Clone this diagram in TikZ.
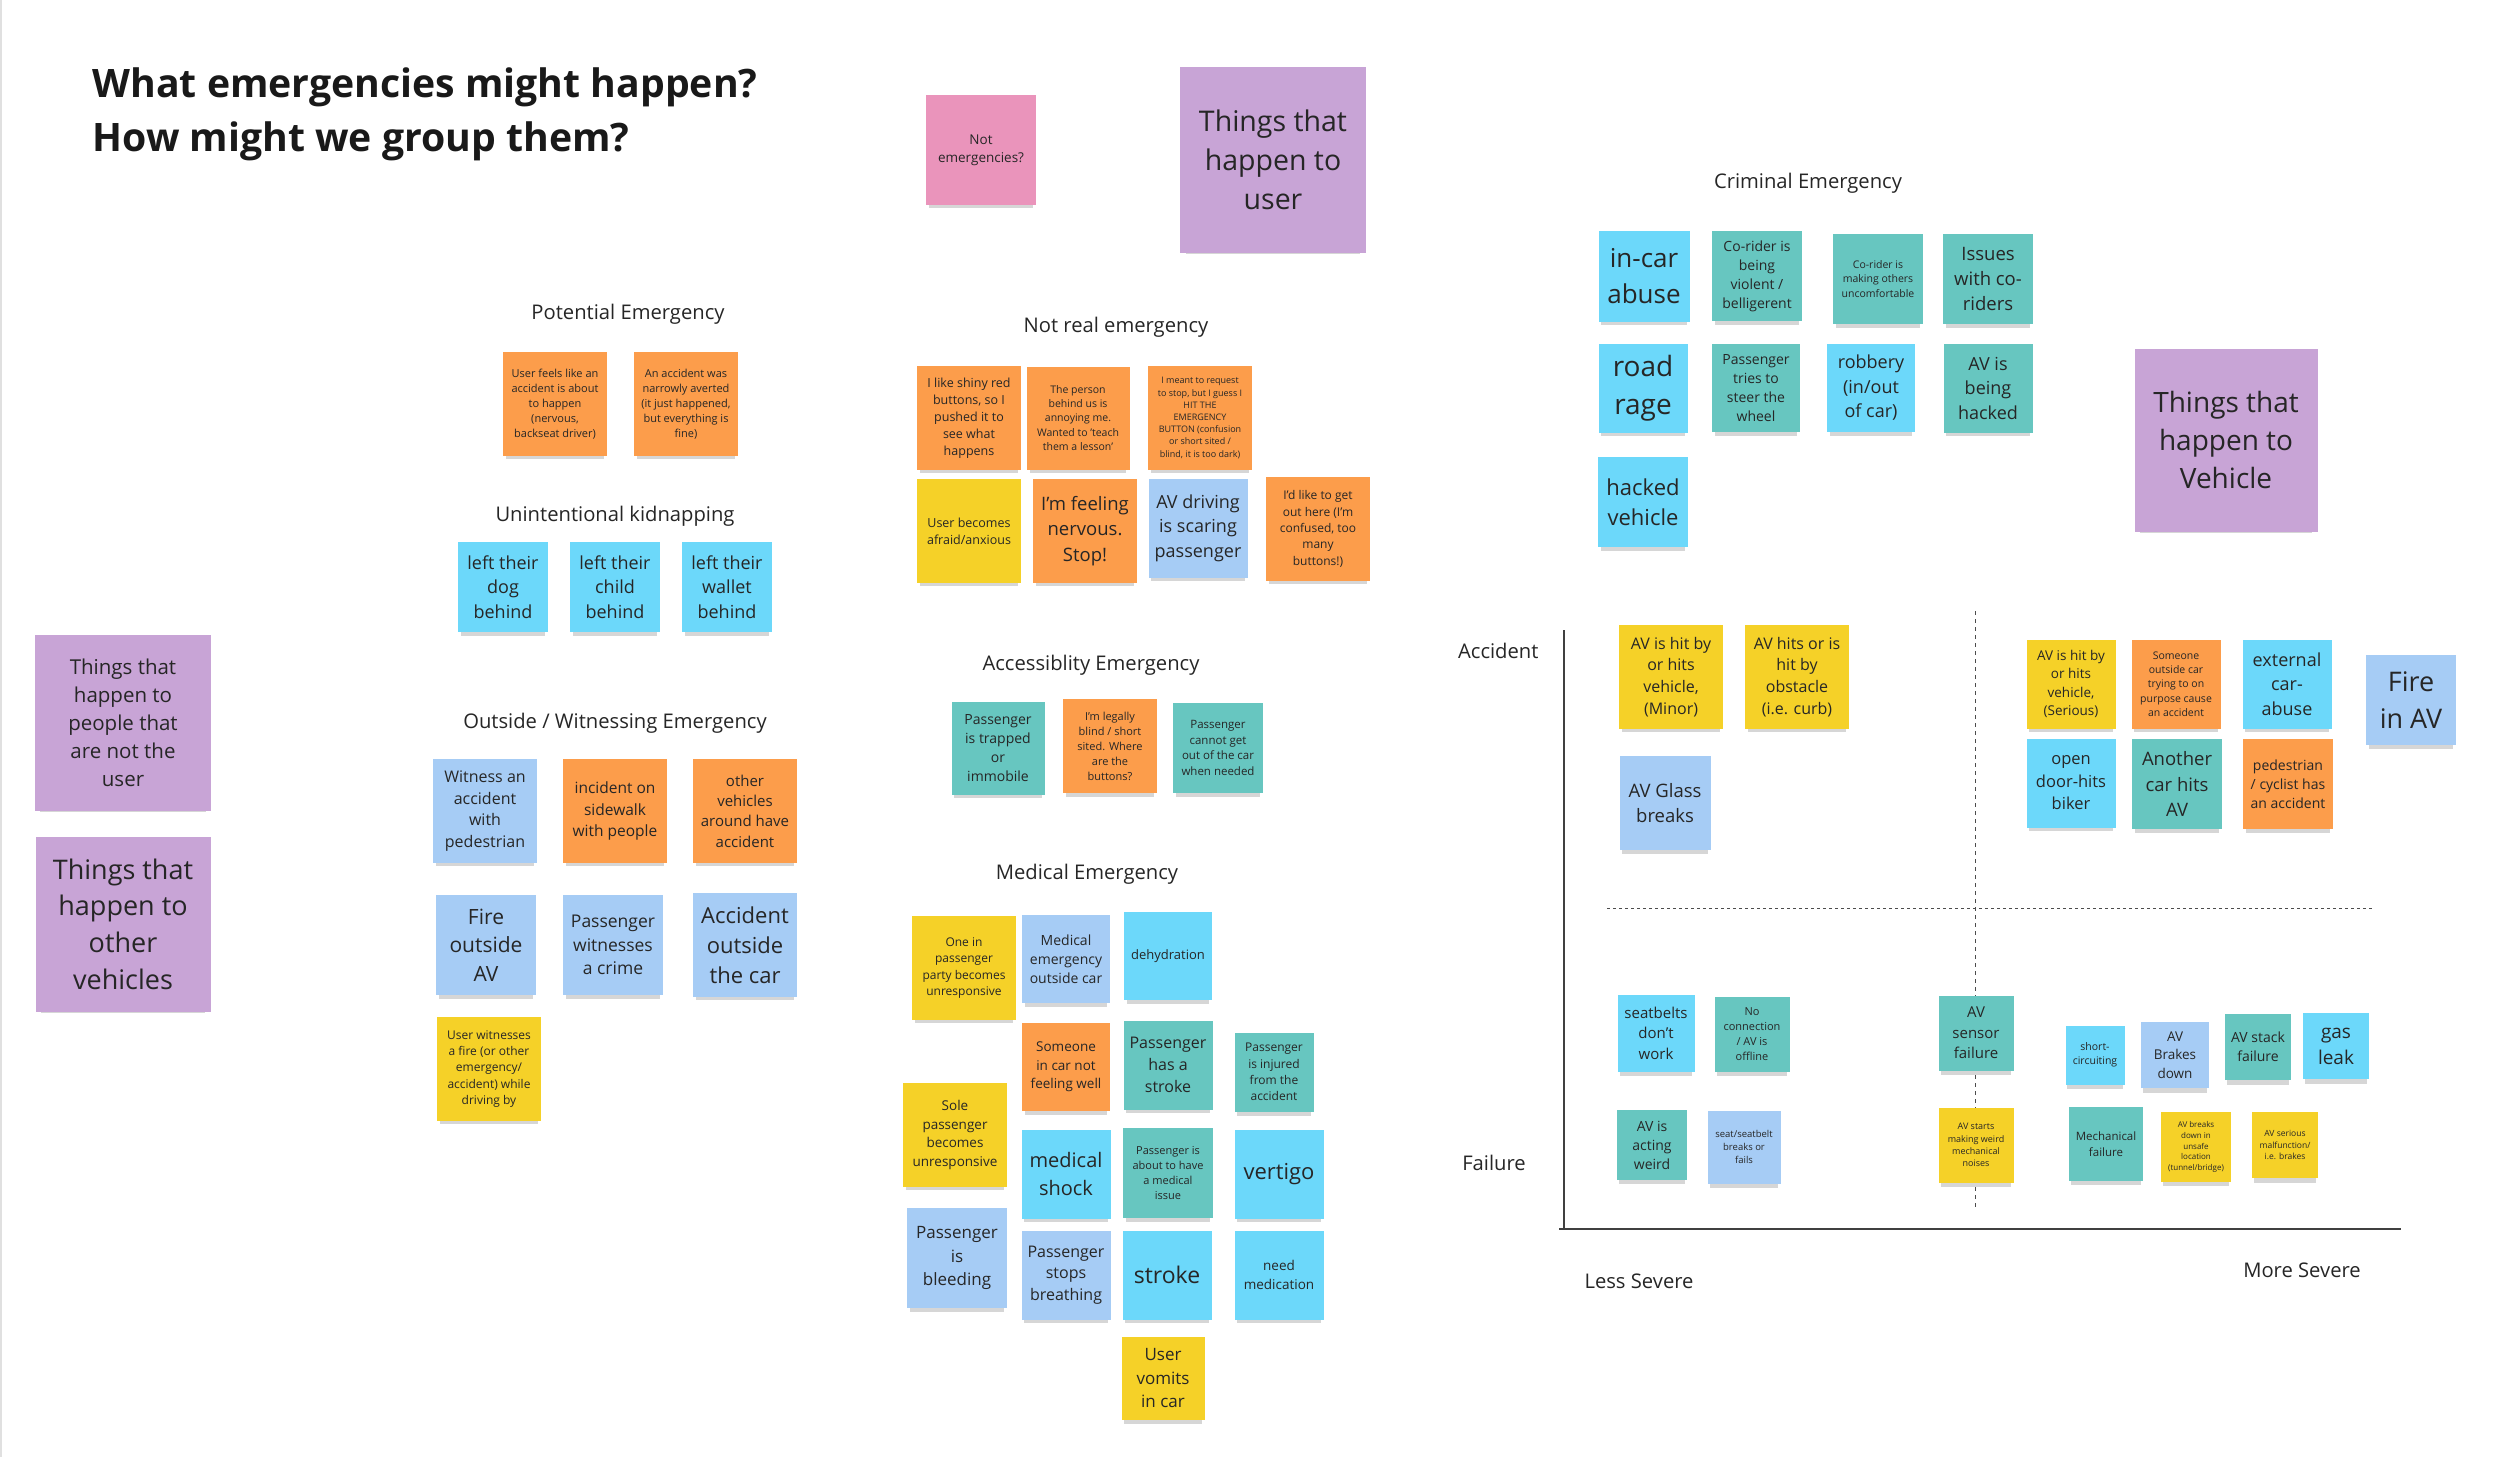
\documentclass[tikz,border=0pt]{standalone}
\usepackage{fontspec}
\setmainfont{Open Sans}
\usetikzlibrary{shadows}
\definecolor{stOrange}{HTML}{FC9D4B}
\definecolor{stYellow}{HTML}{F5D128}
\definecolor{stLblue}{HTML}{A6CCF5}
\definecolor{stCyan}{HTML}{6CD8FA}
\definecolor{stTeal}{HTML}{67C6C0}
\definecolor{stPurple}{HTML}{C8A4D6}
\definecolor{stPink}{HTML}{EA94BB}
\newcommand\fsz[1]{\fontsize{#1}{1.36\dimexpr#1pt\relax}\selectfont}

\begin{document}
\begin{tikzpicture}[
    x=1pt, y=-1pt,
    note/.style={align=center, inner sep=1pt, text=black!85,
      general shadow={fill=black, opacity=0.16, shadow yshift=-7pt, shadow scale=0.94}},
    sq/.style={minimum width=#1, minimum height=#1},
    orng/.style={note, fill=stOrange},
    yel/.style={note, fill=stYellow},
    lblue/.style={note, fill=stLblue},
    cyan/.style={note, fill=stCyan},
    teal/.style={note, fill=stTeal},
    purp/.style={note, fill=stPurple},
    pink/.style={note, fill=stPink},
    hdr/.style={font=\fsz{20.2}, text=black!85},
    axis/.style={draw=black!75, line width=1.8pt},
    guide/.style={draw=black!70, line width=1pt}
  ]
  \useasboundingbox[fill=white] (0,0) rectangle (2500,1457);
  \draw[black!12, line width=1.5pt] (1,0) -- (1,1457);

  % title
  \node[anchor=west, align=left, font=\bfseries\fontsize{39.2}{54}\selectfont, text=black!90]
    (title) at (89,114) {What emergencies might happen?\\How might we group them?};

  % purple / pink headers
  \node[pink, sq=110pt, font=\fsz{13.5}] (notemg) at (981,150) {Not\\emergencies?};
  \node[purp, sq=186pt, font=\fsz{28.5}] (pu1) at (1273,160) {Things that\\happen to\\user};
  \node[purp, sq=183pt, font=\fsz{28}] (pu2) at (2226,440) {Things that\\happen to\\Vehicle};
  \node[purp, sq=176pt, font=\fsz{20.5}] (pu3) at (123,723) {Things that\\happen to\\people that\\are not the\\user};
  \node[purp, sq=175pt, font=\fsz{27}] (pu4) at (123,924) {Things that\\happen to\\other\\vehicles};

  % potential emergency
  \node[hdr] (hpot) at (628,314) {Potential Emergency};
  \node[orng, sq=104pt, font=\fsz{11}] (pot1) at (555,404) {User feels like an\\accident is about\\to happen\\(nervous,\\backseat driver)};
  \node[orng, sq=104pt, font=\fsz{11}] (pot2) at (686,404) {An accident was\\narrowly averted\\(it just happened,\\but everything is\\fine)};

  % unintentional kidnapping
  \node[hdr] (hkid) at (615,516) {Unintentional kidnapping};
  \node[cyan, sq=90pt, font=\fsz{18}] (kid1) at (503,587) {left their\\dog\\behind};
  \node[cyan, sq=90pt, font=\fsz{18}] (kid2) at (615,587) {left their\\child\\behind};
  \node[cyan, sq=90pt, font=\fsz{18}] (kid3) at (727,587) {left their\\wallet\\behind};

  % outside / witnessing
  \node[hdr] (hout) at (615,723) {Outside / Witnessing Emergency};
  \node[lblue, sq=104pt, font=\fsz{16}] (out1) at (485,811) {Witness an\\accident\\with\\pedestrian};
  \node[orng, sq=104pt, font=\fsz{15.5}] (out2) at (615,811) {incident on\\sidewalk\\with people};
  \node[orng, sq=104pt, font=\fsz{15}] (out3) at (745,811) {other\\vehicles\\around have\\accident};
  \node[lblue, sq=100pt, font=\fsz{21}] (out4) at (486,945) {Fire\\outside\\AV};
  \node[lblue, sq=100pt, font=\fsz{17.5}] (out5) at (613,945) {Passenger\\witnesses\\a crime};
  \node[lblue, sq=104pt, font=\fsz{22}] (out6) at (745,945) {Accident\\outside\\the car};
  \node[yel, sq=104pt, font=\fsz{12}] (out7) at (489,1069) {User witnesses\\a fire (or other\\emergency/\\accident) while\\driving by};

  % not real emergency
  \node[hdr] (hnr) at (1116,327) {Not real emergency};
  \node[orng, sq=104pt, font=\fsz{12.5}] (nr1) at (969,418) {I like shiny red\\buttons, so I\\pushed it to\\see what\\happens};
  \node[orng, sq=103pt, font=\fsz{10.5}] (nr2) at (1078,418) {The person\\behind us is\\annoying me.\\Wanted to 'teach\\them a lesson'};
  \node[orng, sq=104pt, font=\fsz{9}] (nr3) at (1200,418) {I meant to request\\to stop, but I guess I\\HIT THE\\EMERGENCY\\BUTTON (confusion\\or short sited /\\blind, it is too dark)};
  \node[yel, sq=104pt, font=\fsz{12.5}] (nr4) at (969,531) {User becomes\\afraid/anxious};
  \node[orng, sq=104pt, font=\fsz{18.5}] (nr5) at (1085,531) {I'm feeling\\nervous.\\Stop!};
  \node[lblue, sq=99pt, font=\fsz{18}] (nr6) at (1198,528) {AV driving\\is scaring\\passenger};
  \node[orng, sq=104pt, font=\fsz{12}] (nr7) at (1318,529) {I'd like to get\\out here (I'm\\confused, too\\many\\buttons!)};

  % accessibility
  \node[hdr] (hacc) at (1091,665) {Accessiblity Emergency};
  \node[teal, sq=93pt, font=\fsz{14}] (acc1) at (998,748) {Passenger\\is trapped\\or\\immobile};
  \node[orng, sq=94pt, font=\fsz{11}] (acc2) at (1110,746) {I'm legally\\blind / short\\sited. Where\\are the\\buttons?};
  \node[teal, sq=90pt, font=\fsz{11.5}] (acc3) at (1218,748) {Passenger\\cannot get\\out of the car\\when needed};

  % medical
  \node[hdr] (hmed) at (1087,874) {Medical Emergency};
  \node[yel, sq=104pt, font=\fsz{12}] (med1) at (964,968) {One in\\passenger\\party becomes\\unresponsive};
  \node[lblue, sq=88pt, font=\fsz{14}] (med2) at (1066,959) {Medical\\emergency\\outside car};
  \node[cyan, sq=88pt, font=\fsz{13}] (med3) at (1168,956) {dehydration};
  \node[orng, sq=88pt, font=\fsz{13.5}] (med4) at (1066,1067) {Someone\\in car not\\feeling well};
  \node[teal, sq=89pt, font=\fsz{16}] (med5) at (1168,1065) {Passenger\\has a\\stroke};
  \node[teal, sq=79pt, font=\fsz{12}] (med6) at (1274,1072) {Passenger\\is injured\\from the\\accident};
  \node[yel, sq=104pt, font=\fsz{13.5}] (med7) at (955,1135) {Sole\\passenger\\becomes\\unresponsive};
  \node[cyan, sq=89pt, font=\fsz{20}] (med8) at (1066,1174) {medical\\shock};
  \node[teal, sq=90pt, font=\fsz{11}] (med9) at (1168,1173) {Passenger is\\about to have\\a medical\\issue};
  \node[cyan, sq=89pt, font=\fsz{22}] (med10) at (1279,1174) {vertigo};
  \node[lblue, sq=100pt, font=\fsz{17}] (med11) at (957,1258) {Passenger\\is\\bleeding};
  \node[lblue, sq=89pt, font=\fsz{16}] (med12) at (1066,1275) {Passenger\\stops\\breathing};
  \node[cyan, sq=89pt, font=\fsz{23}] (med13) at (1167,1275) {stroke};
  \node[cyan, sq=89pt, font=\fsz{13.5}] (med14) at (1279,1275) {need\\medication};
  \node[yel, sq=83pt, font=\fsz{17}] (med15) at (1163,1378) {User\\vomits\\in car};

  % criminal
  \node[hdr] (hcr) at (1808,183) {Criminal Emergency};
  \node[cyan, sq=91pt, font=\fsz{26}] (cr1) at (1644,276) {in-car\\abuse};
  \node[teal, sq=90pt, font=\fsz{14}] (cr2) at (1757,276) {Co-rider is\\being\\violent /\\belligerent};
  \node[teal, sq=90pt, font=\fsz{10.5}] (cr3) at (1878,279) {Co-rider is\\making others\\uncomfortable};
  \node[teal, sq=90pt, font=\fsz{18.5}] (cr4) at (1988,279) {Issues\\with co-\\riders};
  \node[cyan, sq=89pt, font=\fsz{28}] (cr5) at (1643,388) {road\\rage};
  \node[teal, sq=88pt, font=\fsz{14}] (cr6) at (1756,388) {Passenger\\tries to\\steer the\\wheel};
  \node[cyan, sq=88pt, font=\fsz{18}] (cr7) at (1871,388) {robbery\\(in/out\\of car)};
  \node[teal, sq=89pt, font=\fsz{18}] (cr8) at (1988,388) {AV is\\being\\hacked};
  \node[cyan, sq=90pt, font=\fsz{22}] (cr9) at (1643,502) {hacked\\vehicle};

  % severity chart
  \coordinate (ytop) at (1564,630);
  \coordinate (orig) at (1564,1229);
  \coordinate (xl) at (1559,1229);
  \coordinate (xr) at (2401,1229);
  \coordinate (vtop) at (1975,611);
  \coordinate (vbot) at (1975,1207);
  \coordinate (hl) at (1607,908);
  \coordinate (hr) at (2372,908);
  \draw[axis] (ytop) -- (orig);
  \draw[axis] (xl) -- (xr);
  \draw[guide, dash pattern=on 4pt off 4pt] (vtop) -- (vbot);
  \draw[guide, dash pattern=on 3pt off 3pt] (hl) -- (hr);
  \node[hdr, anchor=east] (lacc) at (1542,651) {Accident};
  \node[hdr] (lfail) at (1494,1163) {Failure};
  \node[hdr] (lless) at (1639,1281) {Less Severe};
  \node[hdr] (lmore) at (2302,1270) {More Severe};

  \node[yel, sq=104pt, font=\fsz{16}] (ch1) at (1671,677) {AV is hit by\\or hits\\vehicle,\\(Minor)};
  \node[yel, sq=104pt, font=\fsz{16}] (ch2) at (1797,677) {AV hits or is\\hit by\\obstacle\\(i.e. curb)};
  \node[lblue, minimum width=91pt, minimum height=94pt, font=\fsz{18.5}] (ch3) at (1665,803) {AV Glass\\breaks};
  \node[yel, sq=89pt, font=\fsz{13.5}] (ch4) at (2071,684) {AV is hit by\\or hits\\vehicle,\\(Serious)};
  \node[orng, sq=89pt, font=\fsz{10.5}] (ch5) at (2176,684) {Someone\\outside car\\trying to on\\purpose cause\\an accident};
  \node[cyan, sq=89pt, font=\fsz{18}] (ch6) at (2287,684) {external\\car-\\abuse};
  \node[cyan, sq=89pt, font=\fsz{16.5}] (ch7) at (2071,783) {open\\door-hits\\biker};
  \node[teal, sq=90pt, font=\fsz{18.5}] (ch8) at (2177,784) {Another\\car hits\\AV};
  \node[orng, sq=90pt, font=\fsz{14}] (ch9) at (2288,784) {pedestrian\\/ cyclist has\\an accident};
  \node[lblue, sq=90pt, font=\fsz{27}] (ch10) at (2411,700) {Fire\\in AV};

  \node[cyan, sq=77pt, font=\fsz{15}] (fa1) at (1656,1033) {seatbelts\\don't\\work};
  \node[teal, sq=75pt, font=\fsz{11}] (fa2) at (1752,1034) {No\\connection\\/ AV is\\offline};
  \node[teal, sq=70pt, font=\fsz{14}] (fa3) at (1652,1145) {AV is\\acting\\weird};
  \node[lblue, sq=73pt, font=\fsz{9.5}] (fa4) at (1744,1147) {seat/seatbelt\\breaks or\\fails};
  \node[teal, sq=75pt, font=\fsz{15}] (fa5) at (1976,1033) {AV\\sensor\\failure};
  \node[yel, sq=75pt, font=\fsz{9}] (fa6) at (1976,1145) {AV starts\\making weird\\mechanical\\noises};
  \node[cyan, sq=59pt, font=\fsz{10.5}] (fa7) at (2095,1055) {short-\\circuiting};
  \node[lblue, minimum width=68pt, minimum height=66pt, font=\fsz{13.5}] (fa8) at (2175,1055) {AV\\Brakes\\down};
  \node[teal, sq=66pt, font=\fsz{14}] (fa9) at (2258,1047) {AV stack\\failure};
  \node[cyan, sq=66pt, font=\fsz{19}] (fa10) at (2336,1046) {gas\\leak};
  \node[teal, sq=74pt, font=\fsz{11.5}] (fa11) at (2106,1144) {Mechanical\\failure};
  \node[yel, sq=70pt, font=\fsz{8}] (fa12) at (2196,1147) {AV breaks\\down in\\unsafe\\location\\(tunnel/bridge)};
  \node[yel, sq=66pt, font=\fsz{8.5}] (fa13) at (2285,1145) {AV serious\\malfunction/\\i.e. brakes};

\end{tikzpicture}
\end{document}
